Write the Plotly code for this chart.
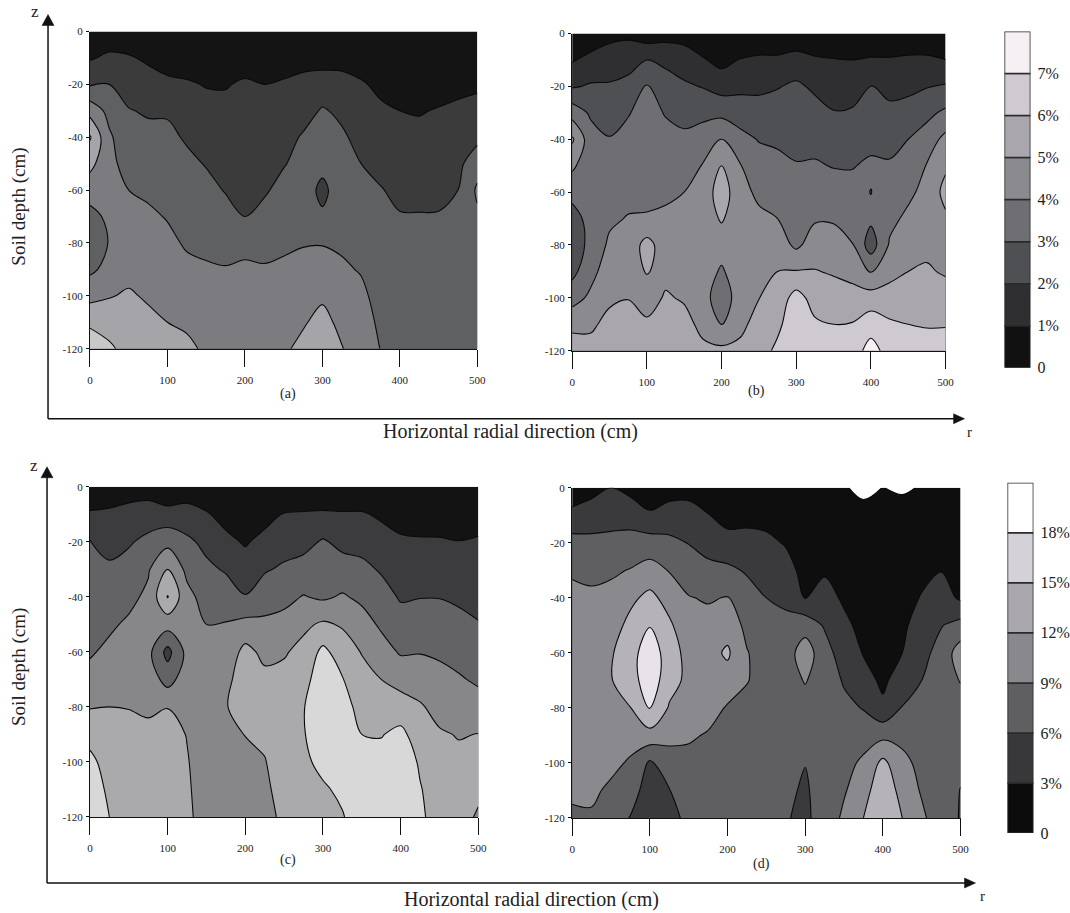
import numpy as np
import plotly.graph_objects as go

# Radial positions (cm) and soil depths (cm) of the moisture grid
radial_cm = [0, 25, 50, 75, 100, 125, 150, 175, 200, 225, 250, 275, 300, 325, 350, 375, 400, 425, 450, 475, 500]
depth_cm = [0, -10, -20, -30, -40, -50, -60, -70, -80, -90, -100, -110, -120]
x_ticks = [0, 100, 200, 300, 400, 500]
y_ticks = [0, -20, -40, -60, -80, -100, -120]
y_tick_labels = ["0", "-20", "-40", "-60", "-80", "-100", "-120"]

# Each inner list is one radial column, top to bottom. Panels a, b in percent.
panel_a = [
[0.0,.9,1.9,3.65,5.1,4.3,3.4,2.7,2.4,2.8,3.7,4.8,5.7],
[.3,1.2,2.0,2.7,3.15,3.25,3.3,3.2,3.05,3.3,3.95,4.5,5.2],
[.3,1.1,1.6,2.05,2.35,2.65,3.0,3.2,3.45,3.75,4.1,4.3,4.6],
[.2,.85,1.4,1.9,2.25,2.55,2.85,3.15,3.4,3.65,3.9,4.2,4.5],
[.1,.6,1.2,1.9,2.2,2.45,2.7,2.95,3.2,3.5,3.75,4.0,4.3],
[.1,.55,1.1,1.5,1.9,2.2,2.45,2.65,2.9,3.2,3.55,3.85,4.2],
[.1,.5,.95,1.3,1.6,1.95,2.25,2.5,2.8,3.1,3.35,3.6,3.85],
[.1,.45,.95,1.2,1.45,1.7,1.95,2.3,2.7,3.05,3.3,3.5,3.7],
[.1,.65,1.1,1.3,1.45,1.6,1.8,2.0,2.65,3.2,3.35,3.5,3.65],
[.1,.5,1.0,1.25,1.45,1.7,1.9,2.25,2.65,3.1,3.3,3.5,3.7],
[.1,.6,1.1,1.4,1.65,1.95,2.25,2.55,2.85,3.15,3.35,3.6,3.85],
[.1,.7,1.25,1.6,2.1,2.25,2.5,2.7,2.95,3.25,3.55,3.9,4.25],
[.1,.65,1.4,2.1,2.2,2.3,1.75,2.15,2.95,3.4,3.85,4.3,4.7],
[.1,.7,1.3,1.8,2.15,2.35,2.55,2.7,2.9,3.1,3.4,3.75,4.05],
[.1,.55,1.1,1.4,1.7,2.0,2.25,2.45,2.7,2.95,3.15,3.35,3.5],
[.1,.4,.8,1.15,1.45,1.75,2.05,2.3,2.5,2.65,2.75,2.85,2.98],
[.1,.3,.65,1.0,1.25,1.5,1.8,2.05,2.35,2.5,2.6,2.7,2.8],
[.1,.3,.6,.95,1.2,1.5,1.75,2.05,2.3,2.45,2.55,2.65,2.75],
[.1,.3,.7,1.05,1.3,1.55,1.8,2.05,2.3,2.45,2.55,2.65,2.7],
[.1,.4,.8,1.15,1.45,1.75,2.0,2.25,2.4,2.5,2.6,2.65,2.7],
[.1,.45,.85,1.3,1.75,2.6,3.15,2.85,2.85,2.7,2.65,2.65,2.65],
]
panel_b = [
[0.0,.9,1.9,3.6,5.15,4.2,3.3,2.6,2.2,2.7,3.6,4.75,5.5],
[.2,1.35,2.1,2.85,3.4,3.3,3.35,3.35,3.4,3.7,4.2,4.85,5.3],
[.7,1.5,2.1,2.6,3.05,3.3,3.6,3.85,4.15,4.5,4.85,5.25,5.5],
[.8,1.6,2.3,2.95,3.25,3.5,3.75,4.05,4.35,4.65,4.98,5.25,5.5],
[.4,2.0,3.1,3.3,3.5,3.7,3.85,4.05,5.37,5.05,4.6,5.15,5.5],
[.6,1.8,2.4,2.95,3.25,3.55,3.85,4.15,4.45,4.75,5.1,5.35,5.5],
[.6,1.5,2.15,2.7,3.2,3.6,4.0,4.25,4.45,4.65,4.9,5.3,5.55],
[.2,1.1,1.95,2.75,3.45,4.05,4.3,4.5,4.65,4.6,4.6,4.75,5.2],
[.1,.7,1.6,2.75,4.0,5.0,5.6,5.1,4.5,3.85,3.1,3.95,5.25],
[.1,1.05,1.75,2.55,3.3,4.05,4.25,4.45,4.6,4.7,4.75,4.8,5.2],
[.1,1.2,1.8,2.4,2.95,3.4,3.85,4.15,4.45,4.7,4.98,5.3,5.6],
[.1,1.2,1.95,2.4,2.85,3.25,3.65,4.0,4.5,5.0,5.4,5.8,6.2],
[.1,1.45,2.15,2.45,2.75,3.05,3.35,3.65,3.8,5.05,6.4,6.6,6.75],
[.1,1.15,1.85,2.3,2.7,3.1,3.5,3.9,4.45,5.05,5.6,6.15,6.45],
[.1,1.05,1.55,2.05,2.5,2.95,3.45,3.9,4.4,4.9,5.45,6.0,6.4],
[.1,1.0,1.6,2.1,2.5,2.95,3.3,3.65,4.05,4.7,5.35,6.05,6.5],
[.1,1.1,2.05,2.4,2.75,3.15,2.98,3.2,2.5,3.95,5.45,6.55,7.4],
[.1,1.1,1.7,2.25,2.7,3.1,3.45,3.75,4.1,4.7,5.4,6.15,6.6],
[.1,1.2,1.75,2.4,3.0,3.4,3.8,4.2,4.6,5.0,5.5,6.0,6.4],
[.1,1.2,1.95,2.75,3.45,4.05,4.3,4.55,4.8,5.1,5.5,5.95,6.3],
[.1,1.02,2.1,3.2,4.3,4.85,5.3,4.85,4.75,4.9,5.4,5.95,6.35],
]
# Panels c, d in classes of 3 percent
panel_c_classes = [
[.1,1.15,2.05,2.25,2.45,2.65,2.9,3.3,3.95,4.6,5.3,5.7,5.8],
[.3,1.2,1.7,2.15,2.5,2.85,3.2,3.6,4.0,4.25,4.5,4.75,5.0],
[.5,1.35,1.9,2.35,2.75,3.15,3.45,3.7,3.98,4.2,4.35,4.5,4.65],
[.5,1.5,2.25,2.9,3.2,3.2,3.3,3.6,3.9,4.15,4.3,4.45,4.6],
[.2,1.35,2.7,4.0,5.05,3.4,1.67,2.6,3.98,4.3,4.4,4.55,4.65],
[.4,1.4,2.2,2.75,3.3,3.4,3.3,3.55,3.75,3.97,4.05,4.1,4.14],
[.2,1.1,1.75,2.2,2.6,3.0,3.15,3.3,3.4,3.5,3.6,3.65,3.7],
[.1,.65,1.25,1.9,2.5,3.05,3.35,3.8,3.95,3.75,3.6,3.55,3.55],
[.1,.45,.9,1.45,2.05,3.3,4.3,4.4,4.4,4.02,3.8,3.6,3.5],
[.1,.65,1.3,1.9,2.55,3.2,3.75,4.25,4.4,4.2,3.95,3.8,3.7],
[.1,1.05,1.6,2.15,2.75,3.3,3.9,4.3,4.5,4.55,4.55,4.4,4.2],
[.1,1.1,1.7,2.35,3.05,3.8,4.3,4.65,4.95,4.93,4.85,4.6,4.4],
[.1,1.15,2.1,2.45,2.85,4.15,5.25,5.6,5.75,5.65,5.2,4.9,4.6],
[.1,1.1,1.75,2.4,3.1,3.9,4.5,5.05,5.4,5.45,5.35,5.15,4.95],
[.1,1.1,1.65,2.25,2.8,3.4,3.95,4.35,4.65,5.0,5.3,5.4,5.4],
[.1,.85,1.4,1.9,2.4,2.85,3.4,4.0,4.45,4.95,5.35,5.55,5.6],
[.1,.6,1.15,1.55,1.9,2.4,2.9,3.65,4.45,5.25,5.5,5.55,5.5],
[.1,.55,1.1,1.55,1.97,2.45,2.95,3.55,4.1,4.5,4.9,5.05,5.1],
[.1,.5,1.1,1.5,1.97,2.4,2.85,3.3,3.7,4.1,4.4,4.6,4.75],
[.1,.5,1.02,1.45,1.85,2.25,2.65,3.1,3.5,3.95,4.2,4.35,4.45],
[.1,.6,1.1,1.4,1.7,2.05,2.45,2.85,3.4,4.02,4.15,4.25,3.85],
]
panel_d_classes = [
[.1,1.4,2.3,2.9,3.2,3.3,3.4,3.4,3.4,3.35,3.3,3.1,2.9],
[.6,1.6,2.2,2.8,3.15,3.4,3.6,3.65,3.6,3.5,3.35,3.15,2.9],
[1.0,1.65,2.25,2.85,3.3,3.6,3.9,3.95,3.7,3.5,3.2,2.85,2.5],
[.7,1.6,2.35,3.05,3.8,4.25,4.6,4.55,3.98,3.3,2.9,2.45,1.95],
[.1,1.2,2.4,3.4,4.25,4.95,5.6,5.6,5.1,3.6,1.85,1.5,1.3],
[.5,1.5,2.2,2.95,3.65,4.15,4.5,4.4,3.9,3.25,2.6,1.97,1.6],
[.6,1.45,1.97,2.5,3.05,3.4,3.65,3.75,3.5,3.15,2.65,2.4,2.3],
[.1,1.05,1.65,2.25,2.9,3.35,3.65,3.65,3.45,2.9,2.6,2.45,2.35],
[.1,.65,1.35,2.2,3.05,3.6,4.15,3.6,2.9,2.7,2.5,2.35,2.3],
[.1,.7,1.35,1.9,2.4,2.75,3.05,3.05,2.7,2.5,2.4,2.3,2.25],
[.1,.7,1.2,1.75,2.0,2.3,2.55,2.6,2.5,2.4,2.3,2.25,2.2],
[.1,.45,.93,1.35,1.8,2.25,2.55,2.65,2.55,2.45,2.3,2.15,2.05],
[.05,.2,.45,.7,.97,2.6,3.5,3.05,2.7,2.4,2.02,1.9,1.85],
[.05,.3,.6,.92,1.25,1.9,2.4,2.6,2.6,2.5,2.4,2.35,2.35],
[.05,.2,.45,.65,.9,1.15,1.5,1.9,2.25,2.45,2.65,2.9,3.2],
[-.15,.2,.35,.5,.65,.8,.95,1.4,1.95,2.55,3.2,3.6,4.0],
[.01,.3,.4,.45,.5,.55,.65,.8,1.2,2.75,4.25,4.7,4.95],
[-.1,.3,.4,.55,.7,.85,1.0,1.5,2.05,2.7,3.3,3.65,4.0],
[.05,.3,.55,.8,1.05,1.35,1.7,2.0,2.25,2.5,2.7,2.9,3.2],
[.1,.35,.65,.97,1.45,1.95,2.35,2.5,2.5,2.45,2.45,2.4,2.4],
[.1,.25,.45,.7,.85,2.35,3.5,3.05,2.6,2.5,2.15,1.98,1.95],
]

legend_top_levels = [0, 1, 2, 3, 4, 5, 6, 7]
legend_top_labels = ["0", "1%", "2%", "3%", "4%", "5%", "6%", "7%"]
legend_bottom_levels = [0, 3, 6, 9, 12, 15, 18]
legend_bottom_labels = ["0", "3%", "6%", "9%", "12%", "15%", "18%"]

colors_a = ["#141414", "#3b3b3c", "#5f6062", "#7c7c80", "#a5a5a9", "#c8c8c8", "#e0e0e0", "#f0f0f0"]
colors_b = ["#111112", "#2f2e31", "#4f5054", "#6f6f73", "#8b8a8f", "#a9a7ad", "#cfc9d1", "#f6eff4"]
colors_c = ["#131313", "#3c3c3e", "#636365", "#87878a", "#aaaaac", "#d8d8d8", "#ffffff"]
colors_d = ["#ffffff", "#0e0e0f", "#3a393b", "#5f5f62", "#8a898e", "#b5b2b8", "#e8e2ea", "#ffffff"]
colors_legend_top = colors_b
colors_legend_bottom = ["#0c0c0c", "#383739", "#5f5f62", "#89888d", "#aaa8ae", "#d5d1d9", "#ffffff"]

W, H = 1070, 913
SERIF = "Liberation Serif"
INK = "#222222"


def px(x):
    return (x - 1.9) / (0.9904 * W)


def py(y):
    return 1 - (y - 6.5) / (0.983 * H)


panels = [
    ("a", panel_a, 1, 1, 7, colors_a, (89, 477, 32, 349)),
    ("b", panel_b, 1, 1, 7, colors_b, (572, 946, 34, 351)),
    ("c", panel_c_classes, 3, 3, 18, colors_c, (89, 478, 487, 817)),
    ("d", panel_d_classes, 3, 0, 18, colors_d, (572, 961, 488, 818)),
]

fig = go.Figure()
layout = {}
for i, (name, cols, scale, start, end, colors, box) in enumerate(panels, start=1):
    z = (np.array(cols) * scale).T
    steps = len(colors) - 1
    fig.add_trace(go.Contour(
        x=radial_cm, y=depth_cm, z=z, xaxis=f"x{i}", yaxis=f"y{i}", showscale=False,
        autocontour=False,
        contours=dict(start=start, end=end, size=scale, coloring="fill", showlines=True),
        line=dict(color="#0a0a0a", width=1.1, smoothing=1.0),
        colorscale=[[k / steps, c] for k, c in enumerate(colors)],
        name=f"({name})",
    ))
    l, r, t, b = box
    layout[f"xaxis{i}"] = dict(
        domain=[px(l), px(r)], range=[0, 500], anchor=f"y{i}", tickvals=x_ticks,
        ticks="outside", ticklen=17, tickwidth=1.2, tickcolor="#111", showgrid=False, zeroline=False,
        showline=True, linecolor="#111", linewidth=1.2, ticklabelstandoff=4,
        tickfont=dict(family=SERIF, size=11, color=INK))
    layout[f"yaxis{i}"] = dict(
        domain=[py(b), py(t)], range=[-120, 0], anchor=f"x{i}", tickvals=y_ticks, ticktext=y_tick_labels,
        ticks="outside", ticklen=3, tickwidth=1.2, tickcolor="#111", showgrid=False, zeroline=False,
        showline=True, linecolor="#111", linewidth=1.2, ticklabelstandoff=1,
        tickfont=dict(family=SERIF, size=11, color=INK))

legends = [
    (legend_top_levels, legend_top_labels, colors_legend_top, 1, (1005, 1031, 32, 368)),
    (legend_bottom_levels, legend_bottom_labels, colors_legend_bottom, 3, (1008, 1034, 483, 833)),
]
for j, (levels, labels, colors, step, box) in enumerate(legends, start=5):
    fig.add_trace(go.Bar(
        x=["band"] * len(levels), y=[step] * len(levels), base=levels, width=1,
        marker=dict(color=colors, line=dict(color="#2a2a2a", width=1.5)),
        xaxis=f"x{j}", yaxis=f"y{j}", showlegend=False))
    l, r, t, b = box
    layout[f"xaxis{j}"] = dict(domain=[px(l), px(r)], anchor=f"y{j}", visible=False, range=[-0.5, 0.5])
    layout[f"yaxis{j}"] = dict(
        domain=[py(b), py(t)], anchor=f"x{j}", side="right", range=[0, levels[-1] + step],
        tickvals=levels, ticktext=labels, showgrid=False, zeroline=False, showline=False,
        ticks="", ticklabelstandoff=6, tickfont=dict(family=SERIF, size=16, color=INK))

# Hand-drawn outer axes with filled arrow heads
shapes = []


def axis_arrows(x0, y0, top, tip):
    shapes.append(dict(type="line", xref="paper", yref="paper", x0=px(x0), y0=py(y0), x1=px(x0), y1=py(top + 8),
                       line=dict(color="#111", width=1.5)))
    shapes.append(dict(type="line", xref="paper", yref="paper", x0=px(x0), y0=py(y0), x1=px(tip - 8), y1=py(y0),
                       line=dict(color="#111", width=1.5)))
    up = f"M {px(x0 - 6)} {py(top + 11)} L {px(x0)} {py(top)} L {px(x0 + 6)} {py(top + 11)} Z"
    right = f"M {px(tip - 11)} {py(y0 - 5)} L {px(tip)} {py(y0)} L {px(tip - 11)} {py(y0 + 5)} Z"
    for path in (up, right):
        shapes.append(dict(type="path", xref="paper", yref="paper", path=path,
                           fillcolor="#111", line=dict(color="#111", width=0.5)))


axis_arrows(47, 419, 15, 965)
axis_arrows(46, 883, 467, 976)


def note(text, x, y, size=16, angle=0):
    return dict(text=text, x=px(x), y=py(y), xref="paper", yref="paper", showarrow=False, textangle=angle,
                xanchor="center", yanchor="middle", font=dict(family=SERIF, size=size, color=INK))


annotations = [
    note("(a)", 287, 394, 14), note("(b)", 757, 391, 14), note("(c)", 287, 860, 14), note("(d)", 762, 864, 14),
    note("Soil depth (cm)", 18, 207, 19, -90), note("Soil depth (cm)", 18, 667, 19, -90),
    note("Horizontal radial direction (cm)", 510, 432, 20),
    note("Horizontal radial direction (cm)", 531, 899, 20),
    note("z", 34, 12, 17), note("z", 33, 466, 17), note("r", 970, 432, 15), note("r", 983, 896, 15),
]

fig.update_layout(
    width=W, height=H, autosize=False, margin=dict(l=0, r=0, t=0, b=0), showlegend=False,
    paper_bgcolor="white", plot_bgcolor="white", barmode="overlay",
    shapes=shapes, annotations=annotations, **layout)

fig.write_html("out.html", config=dict(displayModeBar=False), post_script="document.body.style.margin='0';")
